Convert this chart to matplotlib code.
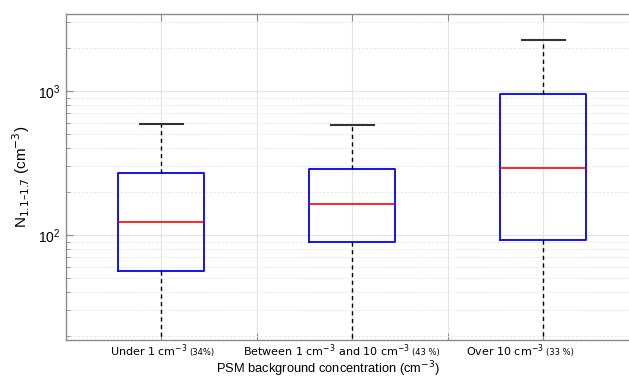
import matplotlib
matplotlib.use("Agg")
import matplotlib.pyplot as plt
from matplotlib.offsetbox import TextArea, HPacker, AnnotationBbox
from matplotlib.ticker import LogLocator, NullFormatter

# box statistics per background class (cm^-3)
groups = ["Under 1 cm$^{-3}$", "Between 1 cm$^{-3}$ and 10 cm$^{-3}$", "Over 10 cm$^{-3}$"]
shares = ["(34%)", "(43 %)", "(33 %)"]
whislo = [8, 8, 8]
q1 = [56, 89, 92]
med = [123, 164, 292]
q3 = [270, 287, 955]
whishi = [590, 585, 2260]

stats = []
for i in range(len(groups)):
    stats.append(dict(whislo=whislo[i], q1=q1[i], med=med[i], q3=q3[i],
                      whishi=whishi[i], fliers=[]))

fig = plt.figure(figsize=(6.29, 3.78), dpi=100)
ax = fig.add_axes([66 / 629, 38 / 378, (638.5 - 66) / 629, (340 - 14) / 378])

pos = [1, 2, 3]
ax.bxp(stats, positions=pos, widths=0.45, showfliers=False,
       boxprops=dict(color="#0000ff", linewidth=1.3),
       medianprops=dict(color="#ff0000", linewidth=1.2),
       whiskerprops=dict(color="black", linewidth=1.0, linestyle=(0, (3, 2.5))),
       capprops=dict(color="#333333", linewidth=1.5),
       capwidths=0.225)

ax.set_yscale("log")
ax.set_ylim(18.7, 3430)
ax.set_xlim(0.5, 3.5)
ax.set_xticks([1, 1.5, 2, 2.5, 3])
ax.set_xticklabels([])
ax.yaxis.set_major_locator(LogLocator(base=10))
ax.yaxis.set_minor_locator(LogLocator(base=10, subs=range(2, 10)))
ax.yaxis.set_minor_formatter(NullFormatter())

ax.grid(True, which="major", color="#e4e4e4", linewidth=0.8)
ax.grid(True, which="minor", axis="y", color="#e6e6e6", linewidth=0.7, linestyle=(0, (2, 2)))
ax.set_axisbelow(True)

for side in ["left", "top", "bottom"]:
    ax.spines[side].set_color("#8c8c8c")
    ax.spines[side].set_linewidth(1.0)
ax.spines["right"].set_visible(False)
ax.tick_params(which="both", direction="in", top=True, right=False, color="#8c8c8c")
ax.tick_params(which="major", length=5)
ax.tick_params(which="minor", length=3)
ax.tick_params(axis="y", labelsize=10, pad=4)
for lab in ax.get_yticklabels():
    lab.set_family("Liberation Sans")

ax.set_ylabel("N$_{1.1\u20131.7}$ (cm$^{-3}$)", family="Liberation Sans", fontsize=11, labelpad=4)
ax.set_xlabel("PSM background concentration (cm$^{-3}$)", family="Liberation Sans",
              fontsize=9.3)
ax.xaxis.set_label_coords(0.458, -0.059)

# category labels with smaller share annotation
label_x = [1.005, 1.942, 2.88]
for x, g, s in zip(label_x, groups, shares):
    box = HPacker(children=[TextArea(g, textprops=dict(fontsize=8, family="DejaVu Sans")),
                            TextArea(s, textprops=dict(fontsize=6, family="DejaVu Sans"))],
                  align="baseline", pad=0, sep=1.5)
    ab = AnnotationBbox(box, (x, 0), xycoords=ax.get_xaxis_transform(),
                        xybox=(0, -7.5), boxcoords="offset points",
                        frameon=False, box_alignment=(0.5, 0.5), annotation_clip=False)
    ax.add_artist(ab)

fig.savefig("out.png", dpi=100)
